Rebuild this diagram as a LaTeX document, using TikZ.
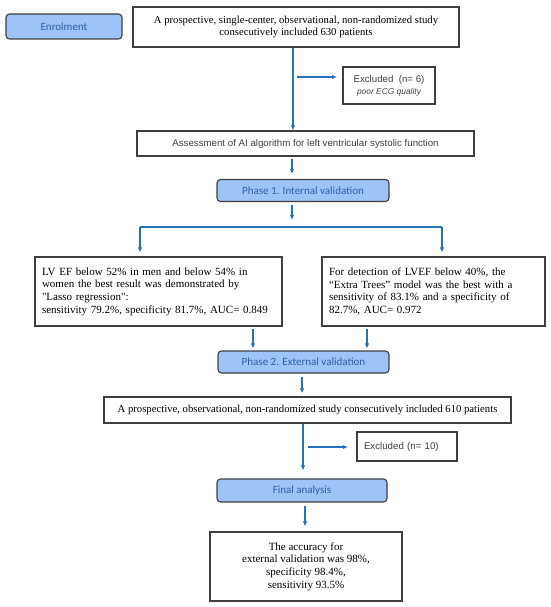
\documentclass[tikz,border=0pt]{standalone}
\usepackage{fontspec}
\setmainfont{Liberation Serif}
\newfontfamily\serifplain{Liberation Serif}
\newfontfamily\arialf{Liberation Sans}
\newfontfamily\calf{Carlito}
\usetikzlibrary{arrows.meta,calc}
\definecolor{arrowblue}{HTML}{2473BA}
\definecolor{boxfill}{HTML}{9DC3F7}
\definecolor{boxtext}{HTML}{2E5FA3}
\definecolor{edgegray}{HTML}{3F3F3F}
\definecolor{sanstext}{HTML}{404040}
\newcommand{\sq}{{\serifplain"}}
\begin{document}
\begin{tikzpicture}[x=1pt,y=-1pt,
  whitebox/.style={draw=edgegray, line width=1.1pt, fill=white, inner sep=0pt, rectangle},
  bluebox/.style={draw=edgegray, line width=1.1pt, fill=boxfill, rounded corners=3.5pt, text=boxtext, font=\calf\fontsize{11}{13}\selectfont, inner sep=0pt},
  serifA/.style={font=\fontsize{10.7}{12.3}\selectfont},
  serifB/.style={font=\fontsize{11}{12.7}\selectfont},
  sansA/.style={font=\arialf\fontsize{9.7}{12}\selectfont, text=sanstext},
  arr/.style={draw=arrowblue, line width=1.4pt, -{Latex[length=5pt,width=4.5pt]}},
  ln/.style={draw=arrowblue, line width=1.4pt}]
\useasboundingbox (0,0) rectangle (550,607);

% nodes
\node[bluebox, minimum width=116, minimum height=25] (enrol) at (64,26.5) {Enrolment};
\node[whitebox, serifA, minimum width=326, minimum height=40, align=center] (top) at (296,27)
  {A prospective, single-center, observational, non-randomized study\\consecutively included 630 patients};
\node[whitebox, minimum width=92, minimum height=37, align=center, text=sanstext] (excl1) at (389,85.5)
  {{\arialf\fontsize{9.7}{12}\selectfont Excluded\ \ (n= 6)}\\{\arialf\itshape\fontsize{8.4}{10}\selectfont poor ECG quality}};
\node[whitebox, sansA, minimum width=337, minimum height=25] (assess) at (305.5,143.5)
  {Assessment of AI algorithm for left ventricular systolic function};
\node[bluebox, minimum width=172, minimum height=22] (phase1) at (303,190.5) {Phase 1. Internal validation};
\node[whitebox, serifB, minimum width=247, minimum height=69, text width=233, align=left, inner xsep=7pt] (left) at (158.5,291.5)
  {LV EF below 52\% in men and below 54\% in\\women the best result was demonstrated by\\\sq Lasso regression\sq:\\sensitivity 79.2\%, specificity 81.7\%, AUC= 0.849};
\node[whitebox, serifB, minimum width=223, minimum height=69, text width=209, align=left, inner xsep=7pt] (right) at (433.5,291.5)
  {For detection of LVEF below 40\%, the\\“Extra Trees” model was the best with a\\sensitivity of 83.1\% and a specificity of\\82.7\%, AUC= 0.972};
\node[bluebox, minimum width=171, minimum height=22] (phase2) at (303.5,362) {Phase 2. External validation};
\node[whitebox, serifA, minimum width=407, minimum height=26] (mid) at (307.5,410)
  {A prospective, observational, non-randomized study consecutively included 610 patients};
\node[whitebox, sansA, minimum width=100, minimum height=29, text width=86, align=left, inner xsep=7pt] (excl2) at (407,446.5)
  {Excluded (n= 10)};
\node[bluebox, minimum width=170, minimum height=23] (final) at (302,490.5) {Final analysis};
\node[whitebox, serifB, minimum width=192, minimum height=69, align=center] (result) at (306,566.5)
  {The accuracy for\\external validation was 98\%,\\specificity 98.4\%,\\sensitivity 93.5\%};

% connector coordinates
\coordinate (x1) at (293,0);
\coordinate (x2) at (292,0);
\coordinate (e1a) at (297,77);
\coordinate (e1b) at (337,77);
\coordinate (split) at (292,220);
\coordinate (sl) at (140,227);
\coordinate (sr) at (442,227);
\coordinate (xl) at (253,0);
\coordinate (xr) at (367,0);
\coordinate (x3) at (302,0);
\coordinate (x4) at (303,0);
\coordinate (e2a) at (308,447);
\coordinate (e2b) at (348,447);
\coordinate (x5) at (305,0);

% connectors
\draw[arr] (top.south -| x1) -- (assess.north -| x1);
\draw[arr] (e1a) -- (e1b);
\draw[arr, shorten <=2pt, shorten >=5pt] (assess.south -| x2) -- (phase1.north -| x2);
\draw[arr, shorten <=3pt] (phase1.south -| x2) -- (split);
\draw[ln] (sl) -- (sr);
\draw[arr, shorten >=4pt] (sl) -- (left.north -| sl);
\draw[arr, shorten >=4pt] (sr) -- (right.north -| sr);
\draw[arr, shorten <=2pt, shorten >=2pt] (left.south -| xl) -- (phase2.north -| xl);
\draw[arr, shorten <=2pt, shorten >=2pt] (right.south -| xr) -- (phase2.north -| xr);
\draw[arr, shorten <=3pt, shorten >=3pt] (phase2.south -| x3) -- (mid.north -| x3);
\draw[arr, shorten >=8pt] (mid.south -| x4) -- (final.north -| x4);
\draw[arr] (e2a) -- (e2b);
\draw[arr, shorten <=3pt, shorten >=5pt] (final.south -| x5) -- (result.north -| x5);
\end{tikzpicture}
\end{document}
